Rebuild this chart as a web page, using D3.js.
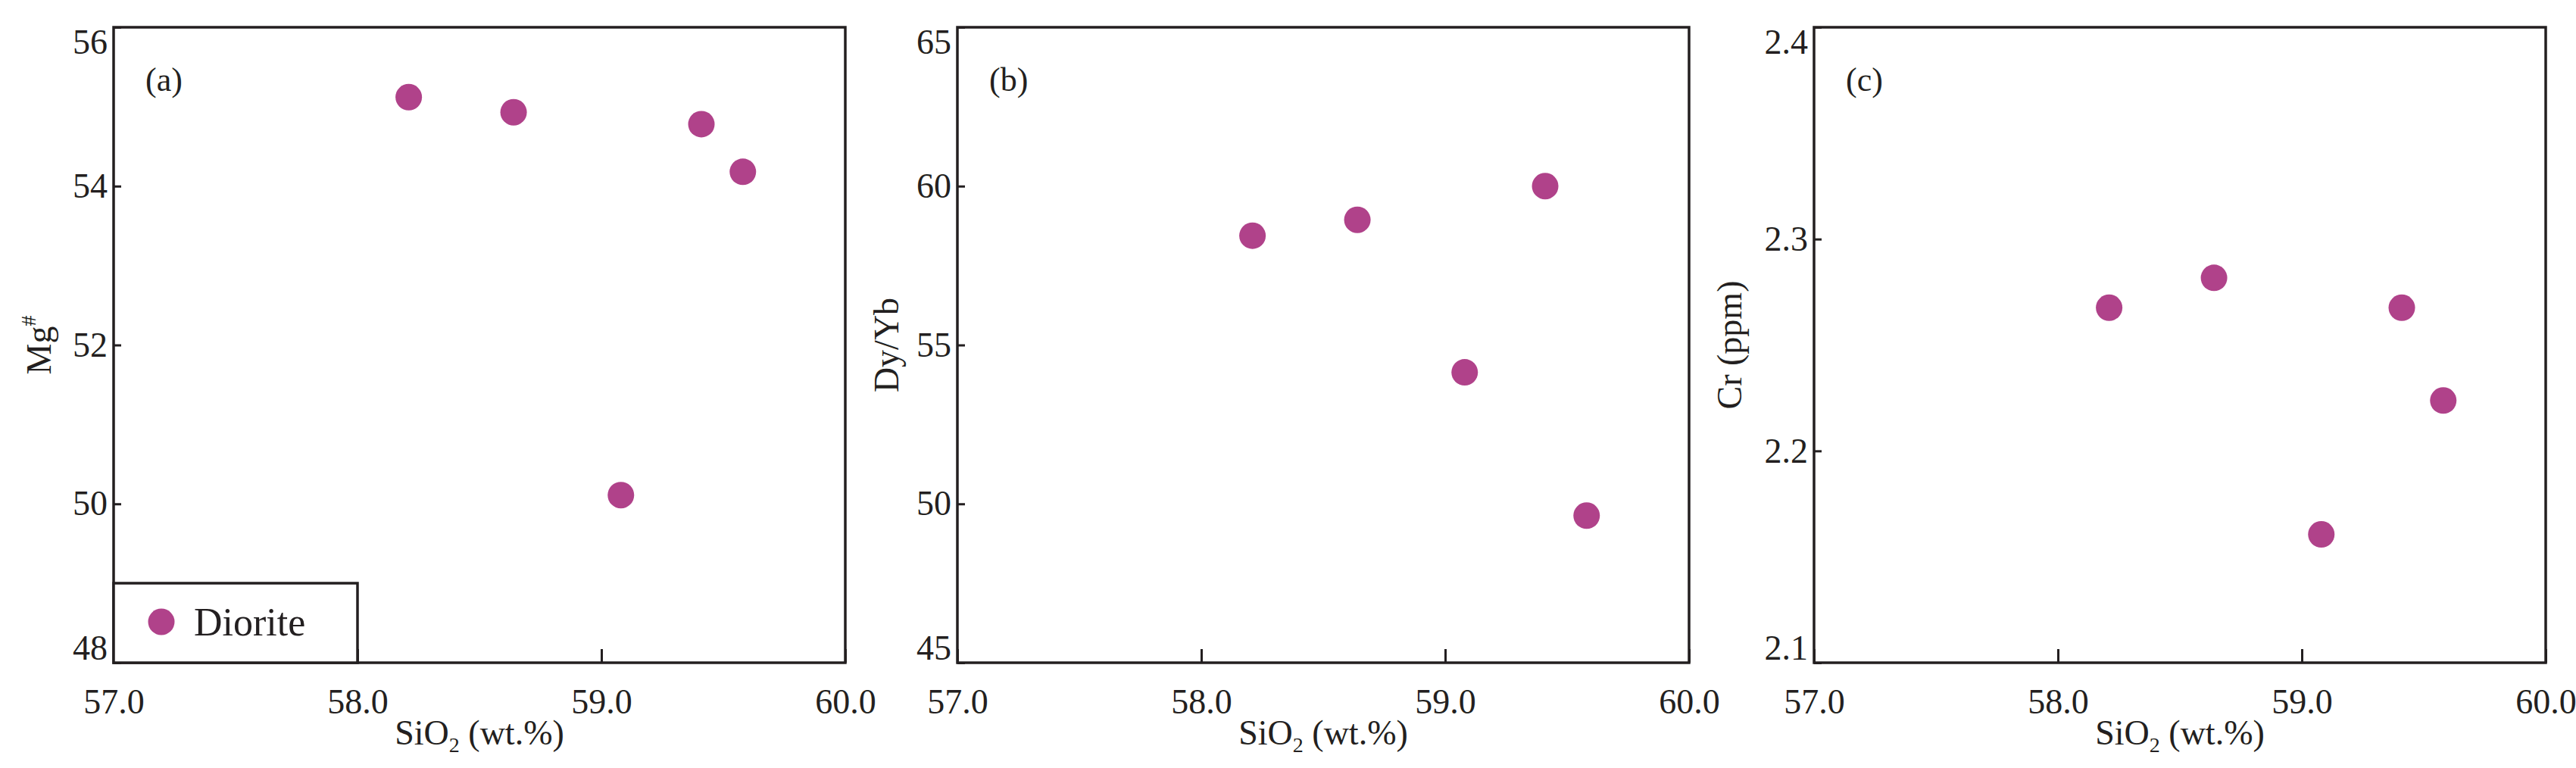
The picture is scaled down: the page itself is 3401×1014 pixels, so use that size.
<!DOCTYPE html>
<html><head><meta charset="utf-8">
<script src="https://cdn.jsdelivr.net/npm/d3@7"></script>
<style>body{margin:0;background:#fff}svg{display:block}text{font-family:"Liberation Serif","Times New Roman",serif;fill:#231f20}</style>
</head><body>
<script>
const sio2 = [58.21, 58.64, 59.08, 59.41, 59.58];
const mg = [55.12, 54.93, 50.11, 54.78, 54.18];
const dyyb = [58.44, 58.94, 54.14, 60.0, 49.63];
const cr = [2.2676, 2.2817, 2.1606, 2.2676, 2.2238];
const xTicks = [57, 58, 59, 60];
const mgTicks = [48, 50, 52, 54, 56];
const dyTicks = [45, 50, 55, 60, 65];
const crTicks = [2.1, 2.2, 2.3, 2.4];
const panels = [
  {left:150, label:"(a)", vals:mg, dom:[48,56], ticks:mgTicks, fmt:d3.format("d"), title:"Mg", sup:"#", ylx:51, legend:true},
  {left:1264, label:"(b)", vals:dyyb, dom:[45,65], ticks:dyTicks, fmt:d3.format("d"), title:"Dy/Yb", ylx:1170},
  {left:2395, label:"(c)", vals:cr, dom:[2.1,2.4], ticks:crTicks, fmt:d3.format(".1f"), title:"Cr (ppm)", ylx:2283}
];
const W=3401,H=1014, pw=966, pTop=36, pBot=875, col="#b0428a", ink="#231f20";
const svg=d3.select("body").append("svg").attr("width",W).attr("height",H);
panels.forEach(p=>{
  const x=d3.scaleLinear().domain([57,60]).range([p.left,p.left+pw]);
  const y=d3.scaleLinear().domain(p.dom).range([pBot,pTop]);
  const g=svg.append("g");
  const ax=g.append("g").attr("transform",`translate(0,${pBot})`).call(d3.axisBottom(x).tickValues(xTicks).tickSizeInner(-18).tickSizeOuter(0).tickPadding(34));
  ax.select(".domain").remove();
  ax.selectAll("line").attr("stroke",ink).attr("stroke-width",3);
  ax.selectAll("text").attr("font-size",46).attr("font-family","Liberation Serif").attr("fill",ink);
  const ay=g.append("g").attr("transform",`translate(${p.left},0)`).call(d3.axisLeft(y).tickValues(p.ticks).tickFormat(p.fmt).tickSizeInner(-10).tickSizeOuter(0).tickPadding(8));
  ay.select(".domain").remove();
  ay.selectAll("line").attr("stroke",ink).attr("stroke-width",3);
  ay.selectAll("text").attr("font-size",46).attr("font-family","Liberation Serif").attr("fill",ink)
    .attr("dy",(d,i)=> i===0? "-0.1em" : (i===p.ticks.length-1? "0.75em":"0.32em"));
  g.append("rect").attr("x",p.left).attr("y",pTop).attr("width",pw).attr("height",pBot-pTop)
    .attr("fill","none").attr("stroke",ink).attr("stroke-width",3.5);
  g.append("text").attr("x",p.left+42).attr("y",120).attr("font-size",44).text(p.label);
  g.selectAll("circle.pt").data(sio2.map((s,i)=>[s,p.vals[i]])).join("circle").attr("class","pt")
    .attr("cx",d=>x(d[0])).attr("cy",d=>y(d[1])).attr("r",17.5).attr("fill",col);
  const xt=g.append("text").attr("x",p.left+pw/2).attr("y",983).attr("text-anchor","middle").attr("font-size",46);
  xt.append("tspan").text("SiO");
  xt.append("tspan").attr("font-size",28).attr("dy",10).text("2");
  xt.append("tspan").attr("dy",-10).text(" (wt.%)");
  const yt=g.append("text").attr("transform",`translate(${p.ylx+16},${(pTop+pBot)/2}) rotate(-90)`).attr("text-anchor","middle").attr("font-size",46);
  yt.append("tspan").text(p.title);
  if(p.sup) yt.append("tspan").attr("font-size",28).attr("dy",-20).text(p.sup);
  if(p.legend){
    g.append("rect").attr("x",p.left).attr("y",770).attr("width",x(58)-p.left).attr("height",pBot-770)
      .attr("fill","#fff").attr("stroke",ink).attr("stroke-width",3.5);
    g.append("circle").attr("cx",p.left+63).attr("cy",821).attr("r",17.5).attr("fill",col);
    g.append("text").attr("x",p.left+106).attr("y",839).attr("font-size",52).text("Diorite");
  }
});
</script>
</body></html>
